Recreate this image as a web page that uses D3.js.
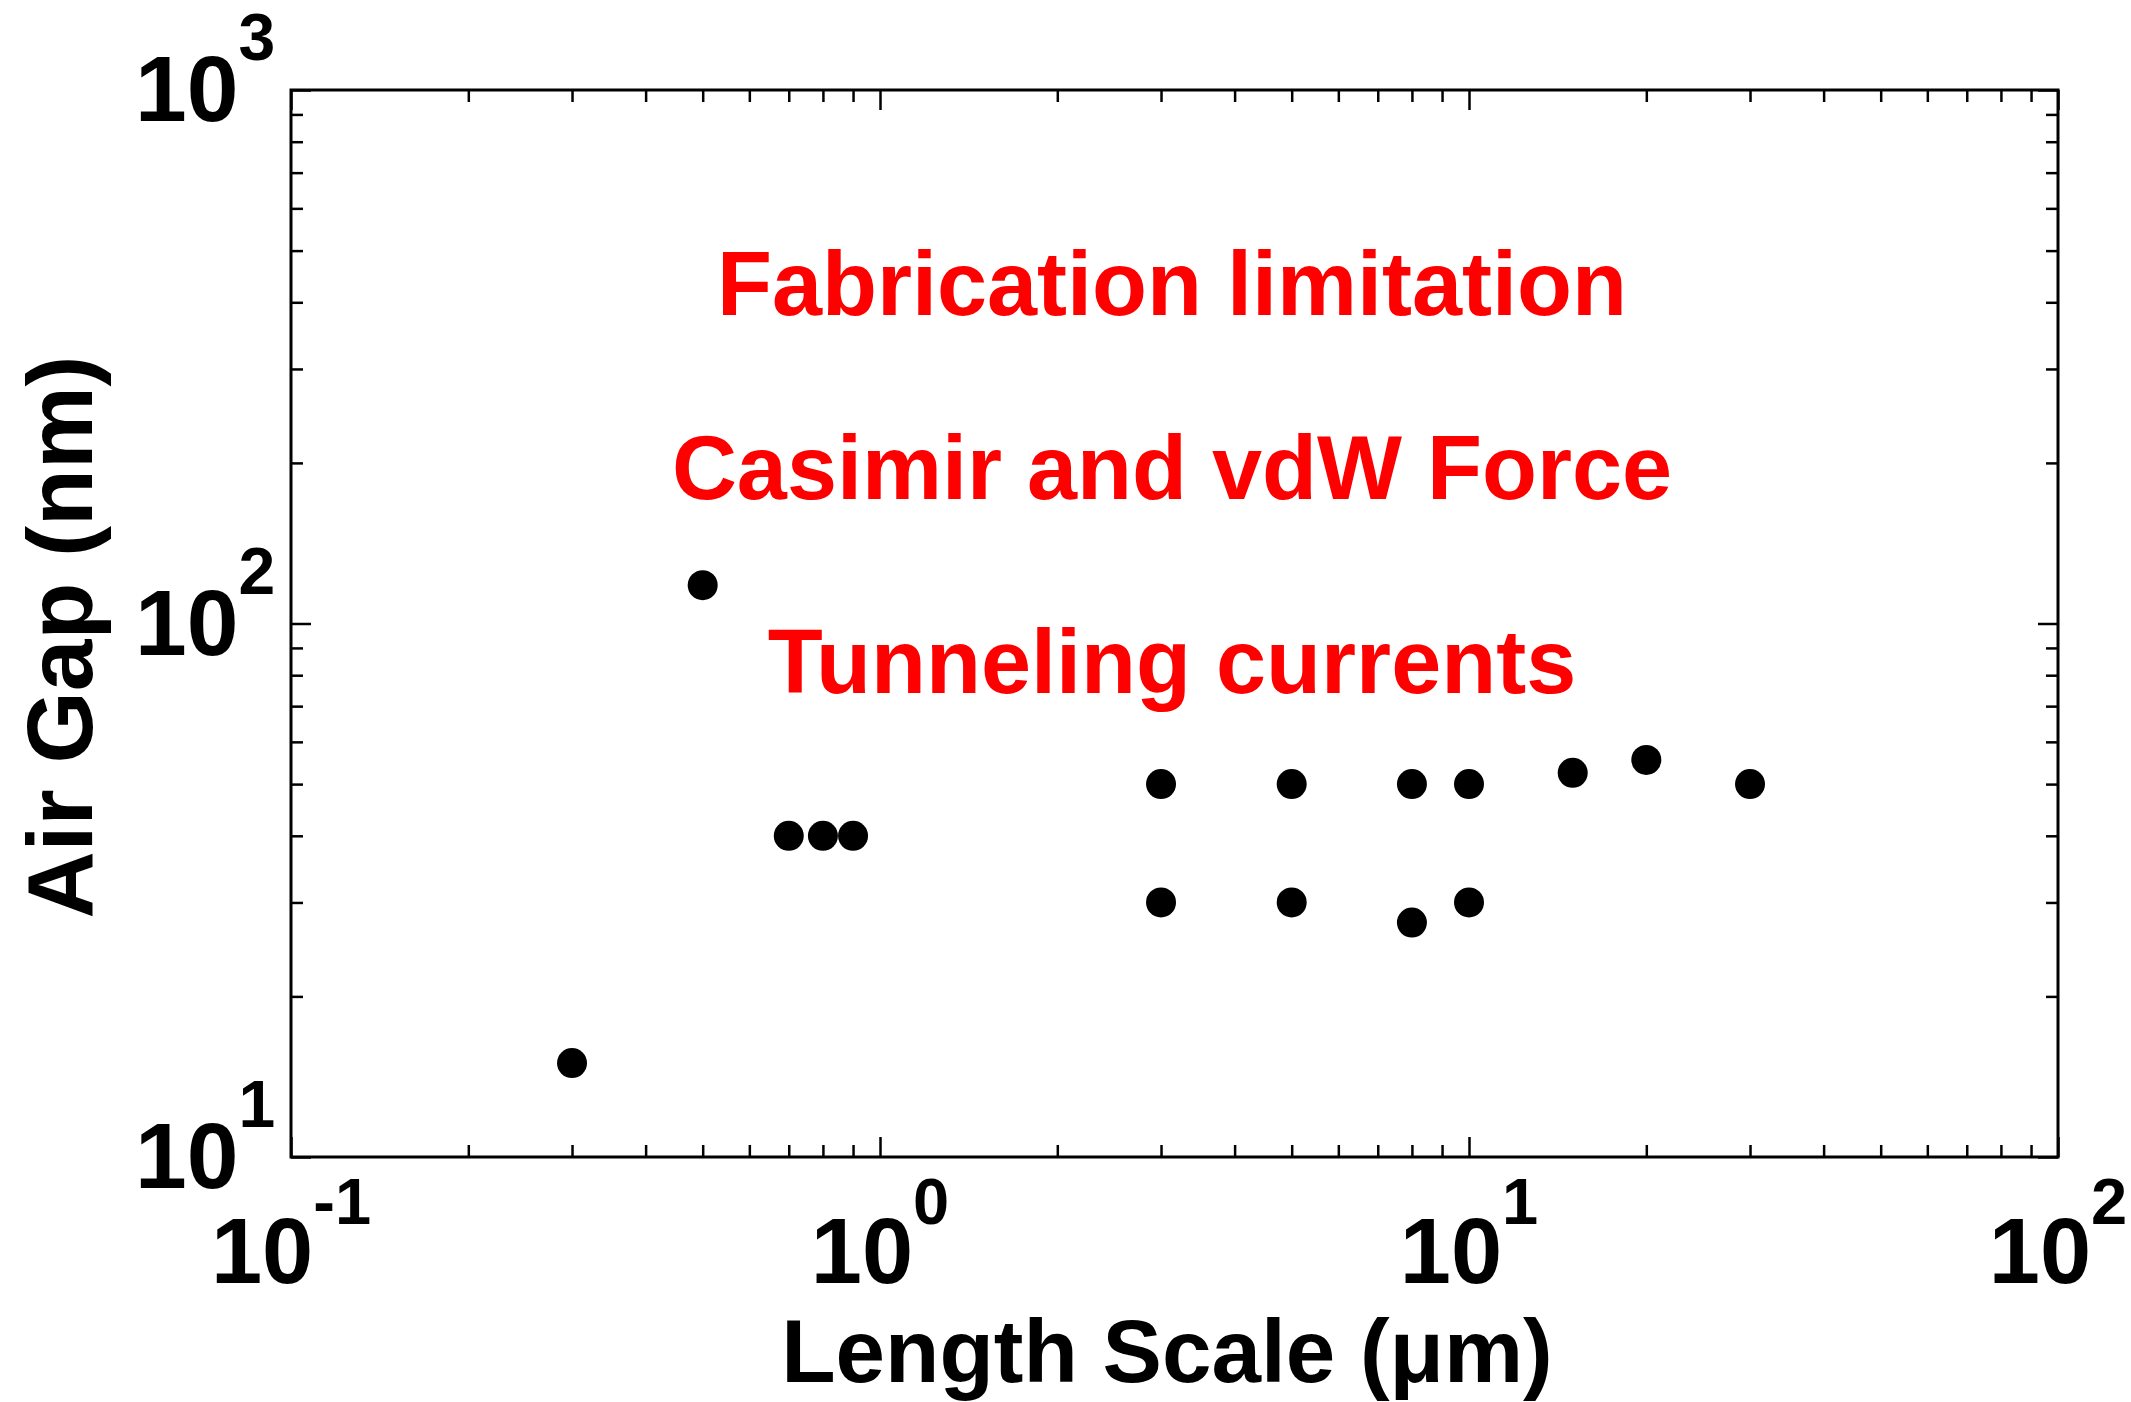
<!DOCTYPE html>
<html>
<head>
<meta charset="utf-8">
<script src="https://cdn.jsdelivr.net/npm/d3@7"></script>
<style>
  html, body { margin: 0; padding: 0; background: #fff; }
  svg { display: block; }
  text { font-family: "Liberation Sans", Arial, Helvetica, sans-serif; font-weight: bold; }
</style>
</head>
<body>
<svg id="chart" width="2131" height="1402"></svg>
<script>
// ---- Data ----
const lengthScale = [0.3, 0.5, 0.7, 0.8, 0.9, 3, 3, 5, 5, 8, 8, 10, 10, 15, 20, 30];   // µm
const airGap      = [15, 118, 40, 40, 40, 50, 30, 50, 30, 50, 27.5, 50, 30, 52.5, 55.5, 50]; // nm

const xDomain = [0.1, 100];
const yDomain = [10, 1000];
const xMajorTicks = [0.1, 1, 10, 100];
const xTickExponents = ["-1", "0", "1", "2"];
const yMajorTicks = [10, 100, 1000];
const yTickExponents = ["1", "2", "3"];
const minorMultipliers = [2, 3, 4, 5, 6, 7, 8, 9];

const annotations = ["Fabrication limitation", "Casimir and vdW Force", "Tunneling currents"];
const annotationY = [315, 499, 693];

const xLabel = "Length Scale (\u03bcm)";
const yLabel = "Air Gap (nm)";

// ---- Layout ----
const margin = { left: 291, top: 90, right: 2131 - 2058, bottom: 1402 - 1157 };
const W = 2131, H = 1402;
const iw = W - margin.left - margin.right;
const ih = H - margin.top - margin.bottom;

const svg = d3.select("#chart");
const g = svg.append("g").attr("transform", `translate(${margin.left},${margin.top})`);

const x = d3.scaleLog().domain(xDomain).range([0, iw]);
const y = d3.scaleLog().domain(yDomain).range([ih, 0]);

function minorOf(domain) {
  const out = [];
  for (let p = Math.log10(domain[0]); p < Math.log10(domain[1]); p++) {
    minorMultipliers.forEach(m => out.push(m * Math.pow(10, p)));
  }
  return out;
}
const xMinor = minorOf(xDomain);
const yMinor = minorOf(yDomain);

const majorLen = 20, minorLen = 12;

function styleAxis(sel) {
  sel.select(".domain").remove();
  sel.selectAll("line").attr("stroke", "#000").attr("stroke-width", 2.5);
  sel.selectAll("text").remove();
}

// bottom
g.append("g").attr("transform", `translate(0,${ih})`)
  .call(d3.axisBottom(x).tickValues(xMajorTicks).tickSize(-majorLen).tickFormat(""))
  .call(styleAxis);
g.append("g").attr("transform", `translate(0,${ih})`)
  .call(d3.axisBottom(x).tickValues(xMinor).tickSize(-minorLen).tickFormat(""))
  .call(styleAxis);
// top
g.append("g")
  .call(d3.axisTop(x).tickValues(xMajorTicks).tickSize(-majorLen).tickFormat(""))
  .call(styleAxis);
g.append("g")
  .call(d3.axisTop(x).tickValues(xMinor).tickSize(-minorLen).tickFormat(""))
  .call(styleAxis);
// left
g.append("g")
  .call(d3.axisLeft(y).tickValues(yMajorTicks).tickSize(-majorLen).tickFormat(""))
  .call(styleAxis);
g.append("g")
  .call(d3.axisLeft(y).tickValues(yMinor).tickSize(-minorLen).tickFormat(""))
  .call(styleAxis);
// right
g.append("g").attr("transform", `translate(${iw},0)`)
  .call(d3.axisRight(y).tickValues(yMajorTicks).tickSize(-majorLen).tickFormat(""))
  .call(styleAxis);
g.append("g").attr("transform", `translate(${iw},0)`)
  .call(d3.axisRight(y).tickValues(yMinor).tickSize(-minorLen).tickFormat(""))
  .call(styleAxis);

// frame
g.append("rect")
  .attr("x", 0).attr("y", 0).attr("width", iw).attr("height", ih)
  .attr("fill", "none").attr("stroke", "#000").attr("stroke-width", 3);

// x tick labels
xMajorTicks.forEach((v, i) => {
  const t = g.append("text")
    .attr("x", x(v)).attr("y", ih + 126)
    .attr("text-anchor", "middle")
    .attr("font-size", 92).attr("fill", "#000");
  t.append("tspan").text("10");
  t.append("tspan").attr("dy", -59).attr("font-size", 65).text(xTickExponents[i]);
});

// y tick labels
yMajorTicks.forEach((v, i) => {
  const t = g.append("text")
    .attr("x", 135 - margin.left).attr("y", y(v) + 31)
    .attr("text-anchor", "start")
    .attr("font-size", 93).attr("fill", "#000");
  t.append("tspan").text("10");
  t.append("tspan").attr("dy", -61).attr("font-size", 66).text(yTickExponents[i]);
});

// data points
g.append("g").selectAll("circle")
  .data(lengthScale.map((d, i) => [d, airGap[i]]))
  .join("circle")
  .attr("cx", d => x(d[0]))
  .attr("cy", d => y(d[1]))
  .attr("r", 15)
  .attr("fill", "#000");

// annotations
annotations.forEach((s, i) => {
  svg.append("text")
    .attr("x", 1172).attr("y", annotationY[i])
    .attr("text-anchor", "middle")
    .attr("font-size", 90).attr("fill", "#ff0000")
    .text(s);
});

// axis titles
svg.append("text")
  .attr("x", 1167).attr("y", 1382)
  .attr("text-anchor", "middle")
  .attr("font-size", 89).attr("fill", "#000")
  .text(xLabel);

svg.append("text")
  .attr("transform", `translate(92,637) rotate(-90)`)
  .attr("text-anchor", "middle")
  .attr("font-size", 93).attr("fill", "#000")
  .text(yLabel);
</script>
</body>
</html>
